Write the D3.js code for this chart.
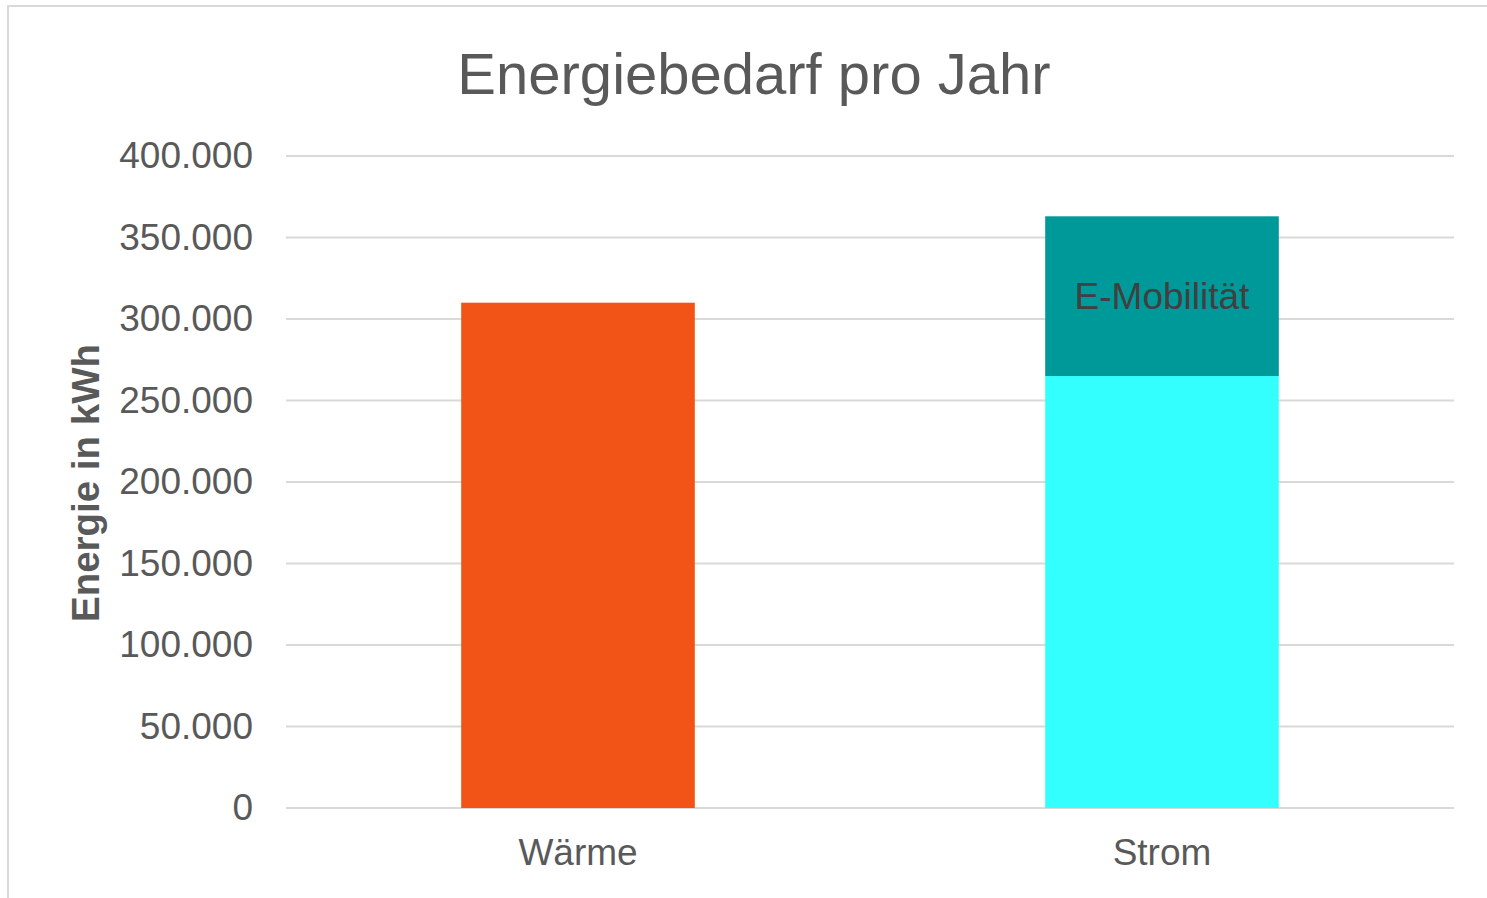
<!DOCTYPE html>
<html><head><meta charset="utf-8">
<script src="https://cdn.jsdelivr.net/npm/d3@7"></script>
<style>html,body{margin:0;padding:0;background:#fff;}svg{display:block;}</style>
</head><body>
<svg id="c" width="1487" height="898"></svg>
<script>
const categories = ["Wärme", "Strom"];
const baseValues = [310000, 265000];
const eMobilityValues = [0, 98000];
const yTicks = [0, 50000, 100000, 150000, 200000, 250000, 300000, 350000, 400000];
const seriesNames = ["Basis", "E-Mobilität"];
const baseColors = ["#f25417", "#33ffff"];
const eMobColor = "#009999";

const svg = d3.select("#c");
const font = "'Liberation Sans', Arial, sans-serif";
svg.append("rect").attr("x", 8).attr("y", 6).attr("width", 1480).attr("height", 894)
  .attr("fill", "#fff").attr("stroke", "#d9d9d9").attr("stroke-width", 2);

const x = d3.scaleBand().domain(categories).range([286, 1454]).paddingInner(0.6).paddingOuter(0.3);
const y = d3.scaleLinear().domain([0, 400000]).range([808, 156]);
const fmt = v => d3.format(",")(v).replace(/,/g, ".");

// gridlines
svg.append("g").selectAll("line").data(yTicks).join("line")
  .attr("x1", 286).attr("x2", 1454).attr("y1", d => y(d)).attr("y2", d => y(d))
  .attr("stroke", "#d9d9d9").attr("stroke-width", 2);

// y axis labels
const yAxis = svg.append("g").attr("transform", "translate(286,0)")
  .call(d3.axisLeft(y).tickValues(yTicks).tickFormat(fmt).tickSize(0).tickPadding(33));
yAxis.select(".domain").remove();
yAxis.selectAll("text").attr("font-family", font).attr("font-size", 37).attr("fill", "#595959");

// bars
const stacked = categories.map((c, i) => ({c, base: baseValues[i], em: eMobilityValues[i], i}));
svg.append("g").selectAll("rect").data(stacked).join("rect")
  .attr("x", d => x(d.c)).attr("width", x.bandwidth())
  .attr("y", d => y(d.base)).attr("height", d => y(0) - y(d.base))
  .attr("fill", d => baseColors[d.i]);
const em = stacked.filter(d => d.em > 0);
svg.append("g").selectAll("rect").data(em).join("rect")
  .attr("x", d => x(d.c)).attr("width", x.bandwidth())
  .attr("y", d => y(d.base + d.em)).attr("height", d => y(d.base) - y(d.base + d.em))
  .attr("fill", eMobColor);
svg.append("g").selectAll("text").data(em).join("text")
  .attr("x", d => x(d.c) + x.bandwidth() / 2)
  .attr("y", d => (y(d.base) + y(d.base + d.em)) / 2)
  .attr("dy", "0.35em").attr("text-anchor", "middle")
  .attr("font-family", font).attr("font-size", 37).attr("fill", "#404040")
  .text(seriesNames[1]);

// x axis labels
const xAxis = svg.append("g").attr("transform", "translate(0,808)")
  .call(d3.axisBottom(x).tickSize(0).tickPadding(31));
xAxis.select(".domain").remove();
xAxis.selectAll("text").attr("font-family", font).attr("font-size", 37).attr("fill", "#595959");

// title
svg.append("text").attr("x", 754).attr("y", 94).attr("text-anchor", "middle")
  .attr("font-family", font).attr("font-size", 58).attr("fill", "#595959")
  .text("Energiebedarf pro Jahr");

// y axis title
svg.append("text").attr("transform", "translate(99,483) rotate(-90)")
  .attr("text-anchor", "middle").attr("font-family", font).attr("font-size", 38.5)
  .attr("font-weight", "bold").attr("fill", "#595959")
  .text("Energie in kWh");
</script>
</body></html>
